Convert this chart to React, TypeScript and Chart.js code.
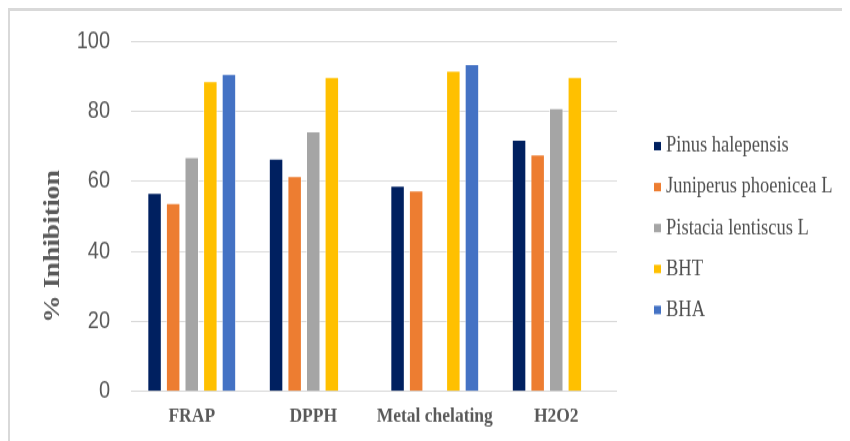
import React, { useEffect, useRef } from "react";
import { Chart, registerables } from "chart.js";

Chart.register(...registerables);

// Assays on the x axis
const categories = ["FRAP", "DPPH", "Metal chelating", "H2O2"];

// % inhibition per extract / reference antioxidant
const pinusHalepensis = [56.7, 66.5, 58.8, 71.9];
const juniperusPhoenicea = [53.8, 61.5, 57.4, 67.7];
const pistaciaLentiscus = [66.9, 74.3, null, 80.9];
const bht = [88.6, 89.8, 91.6, 89.8];
const bha = [90.7, null, 93.5, null];

const seriesLabels = [
  "Pinus halepensis",
  "Juniperus phoenicea L",
  "Pistacia lentiscus L",
  "BHT",
  "BHA",
];
const seriesColors = ["#002060", "#ED7D31", "#A5A5A5", "#FFC000", "#4472C4"];

const yTicks = [0, 20, 40, 60, 80, 100];
const yTitle = "% Inhibition";

// canvas drawn flattened, then stretched vertically
const CANVAS_W = 840;
const CANVAS_H = 358;
const STRETCH = 430 / CANVAS_H;

const TEXT_GREY = "#595959";

const yTitlePlugin = {
  id: "yTitle",
  afterDraw(chart: any) {
    const ctx = chart.ctx;
    ctx.save();
    ctx.translate(43, 196);
    ctx.rotate(-Math.PI / 2);
    ctx.font = "bold 23px 'Liberation Serif', 'Times New Roman', serif";
    ctx.fillStyle = TEXT_GREY;
    ctx.textAlign = "center";
    ctx.textBaseline = "middle";
    ctx.fillText(yTitle, 0, 0);
    ctx.restore();
  },
};

const sideLegendPlugin = {
  id: "sideLegend",
  afterDraw(chart: any) {
    const ctx = chart.ctx;
    const x0 = chart.chartArea.right + 37;
    ctx.save();
    ctx.font = "18.5px 'Liberation Serif', 'Times New Roman', serif";
    ctx.textBaseline = "middle";
    ctx.textAlign = "left";
    chart.data.datasets.forEach((ds: any, i: number) => {
      const y = 112.5 + i * 34.1;
      ctx.fillStyle = ds.backgroundColor;
      ctx.fillRect(x0, y - 3.5, 7, 7);
      ctx.fillStyle = "#505050";
      ctx.fillText(ds.label, x0 + 12, y);
    });
    ctx.restore();
  },
};

export default function App() {
  const canvasRef = useRef<HTMLCanvasElement | null>(null);

  useEffect(() => {
    document.documentElement.style.overflow = "hidden";
    document.body.style.overflow = "hidden";
    const canvas = canvasRef.current;
    if (!canvas) return;

    const seriesValues = [
      pinusHalepensis,
      juniperusPhoenicea,
      pistaciaLentiscus,
      bht,
      bha,
    ];

    const chart = new Chart(canvas, {
      type: "bar",
      data: {
        labels: categories,
        datasets: seriesValues.map((values, i) => ({
          label: seriesLabels[i],
          data: values,
          backgroundColor: seriesColors[i],
          borderColor: "rgba(255,255,255,0.55)",
          borderWidth: 1,
          borderSkipped: "bottom",
          categoryPercentage: 0.765,
          barPercentage: 0.78,
        })),
      },
      options: {
        responsive: false,
        animation: false,
        devicePixelRatio: 1,
        layout: { padding: { top: 25, right: CANVAS_W - 607, left: 0, bottom: 0 } },
        plugins: {
          legend: { display: false },
          tooltip: { enabled: false },
        },
        scales: {
          x: {
            grid: { display: false, drawTicks: false },
            border: { display: false },
            ticks: {
              padding: 10,
              color: TEXT_GREY,
              font: { family: "'Liberation Serif', 'Times New Roman', serif", size: 17.5, weight: "bold" },
              maxRotation: 0,
              autoSkip: false,
            },
            afterFit(scale: any) {
              scale.height = 41.3;
            },
          },
          y: {
            min: 0,
            max: 100,
            afterBuildTicks(scale: any) {
              scale.ticks = yTicks.map((v) => ({ value: v }));
            },
            grid: { color: "#D9D9D9", lineWidth: 1, drawTicks: false },
            border: { display: false },
            ticks: {
              padding: 21,
              color: TEXT_GREY,
              font: { family: "'Liberation Sans', Arial, sans-serif", size: 20 },
            },
            afterFit(scale: any) {
              scale.width = 121;
              scale.paddingTop = 12;
              scale.paddingBottom = 12;
            },
          },
        },
      },
      plugins: [yTitlePlugin, sideLegendPlugin],
    });

    return () => chart.destroy();
  }, []);

  return (
    <div
      style={{
        width: CANVAS_W,
        height: 430,
        borderTop: "3px solid #D9D9D9",
        borderLeft: "2px solid #D9D9D9",
        overflow: "hidden",
        background: "#fff",
      }}
    >
      <canvas
        ref={canvasRef}
        width={CANVAS_W}
        height={CANVAS_H}
        style={{
          display: "block",
          width: CANVAS_W,
          height: CANVAS_H,
          transform: `scaleY(${STRETCH})`,
          transformOrigin: "0 0",
        }}
      />
    </div>
  );
}
